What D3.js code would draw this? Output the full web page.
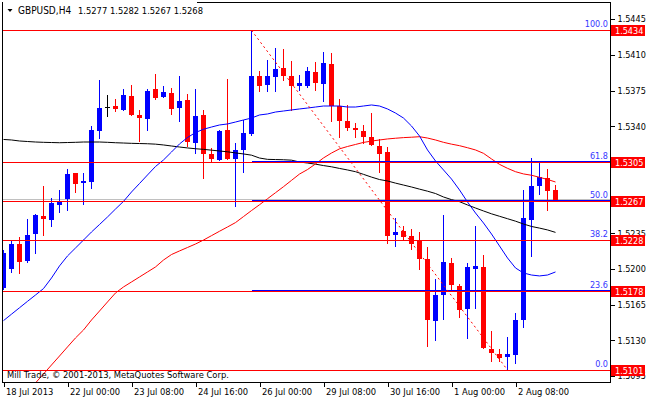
<!DOCTYPE html>
<html><head><meta charset="utf-8">
<script src="https://cdn.jsdelivr.net/npm/d3@7"></script>
<style>
body{margin:0;background:#fff;}
svg{display:block;}
text{font-family:'DejaVu Sans Condensed','DejaVu Sans',sans-serif;font-size:9px;}
</style>
</head><body>
<svg id="c" width="650" height="400"></svg>
<script>
// ---- data (GBPUSD H4) ----
const opens = [1.5181,1.5200,1.5225,1.5208,1.5234,1.5252,1.5248,1.5263,1.5269,1.5294,
1.5284,1.5285,1.5335,1.5359,1.5360,1.5356,1.5370,1.5351,1.5347,1.5376,
1.5369,1.5373,1.5358,1.5366,1.5324,1.5351,1.5313,1.5307,1.5336,1.5308,
1.5317,1.5332,1.5389,1.5380,1.5388,1.5397,1.5389,1.5379,1.5379,1.5393,
1.5381,1.5401,1.5360,1.5345,1.5338,1.5335,1.5329,1.5321,1.5315,1.5233,
1.5237,1.5232,1.5227,1.5210,1.5149,1.5175,1.5206,1.5183,1.5161,1.5200,
1.5202,1.5122,1.5117,1.5114,1.5116,1.5150,1.5248,1.5281,1.5289,1.5277];
const highs = [1.5219,1.5227,1.5231,1.5249,1.5254,1.5281,1.5270,1.5277,1.5298,1.5294,
1.5294,1.5340,1.5385,1.5371,1.5367,1.5376,1.5380,1.5356,1.5376,1.5391,
1.5379,1.5377,1.5389,1.5372,1.5376,1.5356,1.5319,1.5336,1.5386,1.5324,
1.5346,1.5434,1.5394,1.5405,1.5417,1.5416,1.5404,1.5390,1.5398,1.5403,
1.5413,1.5412,1.5367,1.5361,1.5343,1.5341,1.5353,1.5327,1.5320,1.5250,
1.5242,1.5239,1.5236,1.5222,1.5190,1.5253,1.5211,1.5185,1.5206,1.5242,
1.5214,1.5139,1.5122,1.5133,1.5157,1.5277,1.5309,1.5305,1.5298,1.5282];
const lows = [1.5179,1.5196,1.5195,1.5206,1.5215,1.5232,1.5241,1.5255,1.5257,1.5275,
1.5263,1.5278,1.5327,1.5349,1.5354,1.5355,1.5350,1.5325,1.5335,1.5366,
1.5368,1.5351,1.5344,1.5320,1.5313,1.5288,1.5305,1.5306,1.5307,1.5261,
1.5294,1.5330,1.5374,1.5374,1.5374,1.5384,1.5355,1.5375,1.5377,1.5375,
1.5364,1.5344,1.5328,1.5335,1.5328,1.5323,1.5321,1.5294,1.5225,1.5222,
1.5227,1.5219,1.5199,1.5124,1.5129,1.5150,1.5179,1.5152,1.5131,1.5161,
1.5122,1.5109,1.5109,1.5101,1.5107,1.5142,1.5212,1.5273,1.5257,1.5267];
const closes = [1.5216,1.5225,1.5207,1.5233,1.5253,1.5249,1.5265,1.5267,1.5293,1.5283,
1.5286,1.5336,1.5358,1.5359,1.5357,1.5371,1.5351,1.5348,1.5375,1.5368,
1.5374,1.5357,1.5365,1.5325,1.5350,1.5313,1.5308,1.5335,1.5308,1.5317,
1.5333,1.5389,1.5379,1.5389,1.5396,1.5389,1.5379,1.5382,1.5394,1.5382,
1.5402,1.5360,1.5345,1.5338,1.5336,1.5329,1.5322,1.5313,1.5232,1.5236,
1.5231,1.5225,1.5210,1.5150,1.5175,1.5207,1.5184,1.5160,1.5202,1.5203,
1.5123,1.5118,1.5113,1.5117,1.5150,1.5250,1.5281,1.5290,1.5276,1.5268];

const maBlue = [1.51494,1.51557,1.51620,1.51683,1.51745,1.51808,1.51912,1.52030,1.52128,1.52206,
1.52284,1.52363,1.52436,1.52510,1.52588,1.52663,1.52755,1.52838,1.52922,1.53005,
1.53069,1.53147,1.53226,1.53289,1.53338,1.53370,1.53392,1.53412,1.53422,1.53441,
1.53461,1.53480,1.53510,1.53520,1.53539,1.53549,1.53559,1.53569,1.53578,1.53588,
1.53598,1.53598,1.53598,1.53588,1.53588,1.53598,1.53608,1.53598,1.53569,1.53529,
1.53480,1.53402,1.53304,1.53167,1.53059,1.52971,1.52882,1.52775,1.52657,1.52549,
1.52451,1.52343,1.52226,1.52108,1.52010,1.51961,1.51941,1.51932,1.51941,1.51971];
const maRed = [null,null,null,1.50794,1.50883,1.50971,1.51059,1.51147,1.51236,1.51324,
1.51402,1.51500,1.51588,1.51677,1.51765,1.51824,1.51873,1.51922,1.51971,1.52020,
1.52088,1.52142,1.52177,1.52211,1.52245,1.52284,1.52327,1.52370,1.52412,1.52455,
1.52514,1.52573,1.52630,1.52689,1.52748,1.52807,1.52869,1.52931,1.52975,1.53030,
1.53089,1.53137,1.53178,1.53201,1.53221,1.53241,1.53254,1.53265,1.53275,1.53282,
1.53288,1.53292,1.53297,1.53284,1.53265,1.53242,1.53224,1.53209,1.53189,1.53167,
1.53134,1.53079,1.53026,1.52987,1.52954,1.52932,1.52919,1.52899,1.52878,1.52853];
const maBlack = [1.53270,1.53265,1.53255,1.53250,1.53245,1.53242,1.53240,1.53238,1.53240,1.53242,
1.53245,1.53245,1.53245,1.53242,1.53238,1.53235,1.53232,1.53230,1.53228,1.53224,
1.53216,1.53206,1.53196,1.53187,1.53179,1.53173,1.53165,1.53157,1.53149,1.53138,
1.53128,1.53116,1.53088,1.53075,1.53073,1.53071,1.53067,1.53049,1.53039,1.53028,
1.53014,1.53002,1.52986,1.52971,1.52954,1.52928,1.52901,1.52877,1.52863,1.52842,
1.52823,1.52804,1.52783,1.52763,1.52740,1.52706,1.52680,1.52660,1.52628,1.52598,
1.52569,1.52541,1.52517,1.52493,1.52469,1.52441,1.52417,1.52401,1.52383,1.52359];

const fibLevels = ["100.0","61.8","50.0","38.2","23.6","0.0"];
const fibPrices = [1.5434,1.5305,1.5267,1.5228,1.5178,1.5101];
const blueLinePrices = [1.5306,1.5268,1.5179];
const fibStartBar = 31, fibEndBar = 63;
const bidPrice = 1.5268;
const priceTicks = [1.5445,1.5410,1.5375,1.5340,1.5305,1.5270,1.5235,1.5200,1.5165,1.5130,1.5095];
const hiddenTickLabels = [1.5305,1.5270]; // covered by the price boxes in the original
const timeBars = [0,8,16,24,32,40,48,56,64];
const timeLabels = ["18 Jul 2013","22 Jul 00:00","23 Jul 08:00","24 Jul 16:00","26 Jul 00:00","29 Jul 08:00","30 Jul 16:00","1 Aug 00:00","2 Aug 08:00"];
const symbolText = "GBPUSD,H4";
const ohlcText = "1.5277 1.5282 1.5267 1.5268";
const copyright = "Mill Trade, \u00a9 2001-2013, MetaQuotes Software Corp.";

// ---- drawing ----
const svg = d3.select('#c');
const L=2, T=2, R=610, B=382;
const x = d3.scaleLinear().domain([0,69]).range([3.5,555.5]);
const y = d3.scaleLinear().domain([1.5095,1.5445]).range([376.1,19.1]);

svg.append('defs').append('clipPath').attr('id','pc')
  .append('rect').attr('x',L+1).attr('y',T+1).attr('width',R-L-1).attr('height',B-T-1);
const g = svg.append('g').attr('clip-path','url(#pc)');

// bid line
g.append('line').attr('x1',L).attr('x2',R).attr('y1',Math.round(y(bidPrice))-0.5).attr('y2',Math.round(y(bidPrice))-0.5)
  .attr('stroke','#c0c0c0').attr('stroke-width',1).attr('shape-rendering','crispEdges');

const bars = d3.range(opens.length).map(i=>({i,o:opens[i],h:highs[i],l:lows[i],c:closes[i]}));
const col = d => d.c>d.o ? '#0000ff' : (d.c<d.o ? '#ff0000' : '#000000');

g.selectAll('line.wick').data(bars).join('line').attr('class','wick')
  .attr('x1',d=>x(d.i)).attr('x2',d=>x(d.i))
  .attr('y1',d=>y(d.h)).attr('y2',d=>y(d.l))
  .attr('stroke',col).attr('stroke-width',1).attr('shape-rendering','crispEdges');
g.selectAll('rect.body').data(bars).join('rect').attr('class','body')
  .attr('x',d=>x(d.i)-2.5).attr('width',5)
  .attr('y',d=>y(Math.max(d.o,d.c)))
  .attr('height',d=>Math.max(1,Math.abs(y(d.o)-y(d.c))))
  .attr('fill',col).attr('shape-rendering','crispEdges');

const line = d3.line().defined(d=>d!=null).x((d,i)=>x(i)).y(d=>y(d));
[[maBlack,'#000000'],[maRed,'#ff0000'],[maBlue,'#0000ff']].forEach(([arr,c])=>{
  g.append('path').datum(arr).attr('d',line).attr('fill','none').attr('stroke',c).attr('stroke-width',1);
});

// fib levels (red, full width)
g.selectAll('line.fib').data(fibPrices).join('line').attr('class','fib')
  .attr('x1',L).attr('x2',R)
  .attr('y1',d=>Math.round(y(d))+0.5).attr('y2',d=>Math.round(y(d))+0.5)
  .attr('stroke','#ff0000').attr('stroke-width',1).attr('shape-rendering','crispEdges');
// blue horizontal lines from the swing high
g.selectAll('line.hl').data(blueLinePrices).join('line').attr('class','hl')
  .attr('x1',x(fibStartBar)).attr('x2',R)
  .attr('y1',d=>Math.round(y(d))+0.5).attr('y2',d=>Math.round(y(d))+0.5)
  .attr('stroke','#0000ff').attr('stroke-width',1.3).attr('shape-rendering','crispEdges');
// fib trend diagonal
g.append('line')
  .attr('x1',x(fibStartBar)).attr('y1',y(fibPrices[0]))
  .attr('x2',x(fibEndBar)).attr('y2',y(fibPrices[5]))
  .attr('stroke','#ff0000').attr('stroke-width',1).attr('stroke-dasharray','2,3');
// fib level labels
g.selectAll('text.fl').data(fibLevels).join('text').attr('class','fl')
  .attr('x',608).attr('y',(d,i)=>y(fibPrices[i])-3)
  .attr('text-anchor','end').attr('fill','#3636ff').text(d=>d);

// frame
const fr = svg.append('g').attr('stroke','#000').attr('stroke-width',1).attr('shape-rendering','crispEdges');
fr.append('line').attr('x1',197).attr('x2',R+1).attr('y1',T+0.5).attr('y2',T+0.5);
fr.append('line').attr('x1',L+0.5).attr('x2',L+0.5).attr('y1',T).attr('y2',B+1);
fr.append('line').attr('x1',L).attr('x2',R+1).attr('y1',B+0.5).attr('y2',B+0.5);
fr.append('line').attr('x1',R+0.5).attr('x2',R+0.5).attr('y1',T).attr('y2',B+1);

// price axis
const ya = svg.append('g').attr('transform',`translate(${R+0.5},0)`)
  .call(d3.axisRight(y).tickValues(priceTicks).tickSize(4).tickPadding(3)
    .tickFormat(d => hiddenTickLabels.includes(d) ? '' : d3.format('.4f')(d)));
ya.select('.domain').remove();
ya.selectAll('text').attr('fill','#000').style('font-size','9px');
ya.selectAll('line').attr('stroke','#000').attr('shape-rendering','crispEdges');

// red price labels
const pl = svg.append('g');
pl.selectAll('rect').data(fibPrices).join('rect')
  .attr('x',R+1).attr('width',34).attr('y',d=>Math.round(y(d))-5).attr('height',11).attr('fill','#ff0000');
pl.selectAll('text').data(fibPrices).join('text')
  .attr('x',R+5).attr('y',d=>Math.round(y(d))+0.5).attr('dy','0.35em')
  .attr('fill','#ffffff').text(d=>d3.format('.4f')(d));

// time axis
const xa = svg.append('g').attr('transform',`translate(0,${B+0.5})`)
  .call(d3.axisBottom(x).tickValues(timeBars).tickSize(4).tickPadding(2).tickFormat((d,i)=>timeLabels[i]));
xa.select('.domain').remove();
xa.selectAll('line').attr('stroke','#000').attr('shape-rendering','crispEdges');
xa.selectAll('text').attr('text-anchor','start').attr('dx','2').attr('fill','#000').style('font-size','9.3px');

// header
svg.append('path').attr('d','M7.5,9 L12.5,9 L10,12 Z').attr('fill','#000');
svg.append('text').attr('x',18).attr('y',14).attr('fill','#000').style('font-size','10px').text(symbolText);
svg.append('text').attr('x',78).attr('y',14).attr('fill','#000').style('font-size','9.3px').text(ohlcText);
// copyright
svg.append('text').attr('x',7).attr('y',378).attr('fill','#000').style('font-size','9.3px').text(copyright);
</script>
</body></html>
